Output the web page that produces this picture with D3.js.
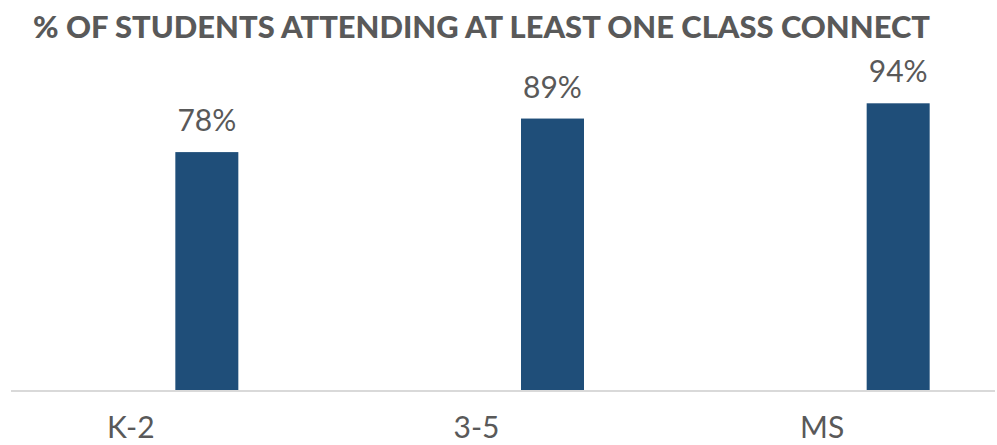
<!DOCTYPE html>
<html>
<head>
<meta charset="utf-8">
<script src="https://cdn.jsdelivr.net/npm/d3@7"></script>
<style>
  html, body { margin: 0; padding: 0; background: #ffffff; }
  svg { display: block; }
</style>
</head>
<body>
<svg id="chart" width="997" height="445"></svg>
<script>
// Share of students attending at least one Class Connect session, by grade band
const categories = ["K-2", "3-5", "MS"];
const values = [78, 89, 94];
const valueLabels = ["78%", "89%", "94%"];
const titleText = "% OF STUDENTS ATTENDING AT LEAST ONE CLASS CONNECT";

const W = 997, H = 445;
const svg = d3.select("#chart");
const baseY = 390;
const textColor = "#595959";
const barColor = "#1f4e79";
const font = "Lato, 'Open Sans', sans-serif";

// Band centers sit under the bars; category names sit left of each bar
const x = d3.scaleBand().domain(categories).range([34, 1071]).paddingInner(0);
const barW = 63;
const labelShift = -76;

const y = d3.scaleLinear().domain([0, 100]).range([baseY, 85]);

// Title
svg.append("text")
  .attr("x", 33).attr("y", 38)
  .attr("textLength", 897).attr("lengthAdjust", "spacingAndGlyphs")
  .style("font-family", font)
  .style("font-weight", 900)
  .style("font-size", "30px")
  .style("fill", textColor)
  .text(titleText);

// Bars
svg.append("g").selectAll("rect")
  .data(values)
  .join("rect")
  .attr("x", (d, i) => x(categories[i]) + x.bandwidth() / 2 - barW / 2)
  .attr("width", barW)
  .attr("y", d => y(d))
  .attr("height", d => baseY - y(d))
  .attr("fill", barColor);

// Value labels above bars
svg.append("g").selectAll("text")
  .data(values)
  .join("text")
  .attr("x", (d, i) => x(categories[i]) + x.bandwidth() / 2)
  .attr("y", d => y(d) - 21)
  .attr("text-anchor", "middle")
  .style("font-family", font)
  .style("font-size", "30px")
  .style("fill", textColor)
  .text((d, i) => valueLabels[i]);

// Baseline
svg.append("line")
  .attr("x1", 11).attr("x2", 995)
  .attr("y1", baseY + 1).attr("y2", baseY + 1)
  .attr("stroke", "#d9d9d9")
  .attr("stroke-width", 2);

// Category axis
const axis = svg.append("g")
  .attr("transform", `translate(0,${baseY})`)
  .call(d3.axisBottom(x).tickSize(0).tickPadding(0));
axis.select(".domain").remove();
axis.selectAll(".tick text")
  .attr("x", labelShift)
  .attr("y", 48)
  .attr("dy", 0)
  .style("font-family", font)
  .style("font-size", "30px")
  .style("fill", textColor);
</script>
</body>
</html>
